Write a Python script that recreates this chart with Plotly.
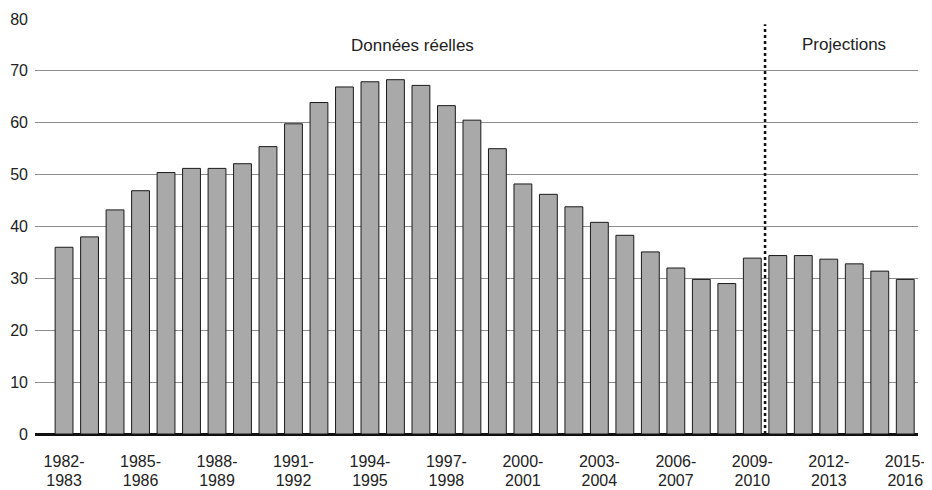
import plotly.graph_objects as go

# data
years = [f'{y}-{y + 1}' for y in range(1982, 2016)]
values = [
    36.0, 38.0, 43.2, 46.9, 50.4, 51.2, 51.2, 52.1, 55.4, 59.8, 63.9,
    66.9, 67.9, 68.3, 67.2, 63.3, 60.5, 55.0, 48.2, 46.2, 43.8, 40.8,
    38.3, 35.1, 32.0, 29.8, 29.0, 33.9, 34.4, 34.4, 33.7, 32.8, 31.4, 29.8,
]
tick_years = years[::3]
tick_top = [y.split('-')[0] + '-' for y in tick_years]
tick_bottom = [y.split('-')[1] for y in tick_years]
y_ticks = list(range(0, 90, 10))
x_range = [-1.14, 33.5]

fig = go.Figure()

fig.add_trace(go.Bar(
    x=years, y=values,
    marker=dict(color='#a9a9a9', line=dict(color='#1a1a1a', width=1)),
    showlegend=False, hoverinfo='x+y',
))
# invisible copy on the second x axis, only carries the second line of labels
fig.add_trace(go.Scatter(
    x=years, y=values, xaxis='x2', mode='markers',
    marker=dict(opacity=0), showlegend=False, hoverinfo='skip',
))

# split between actual data and projections
fig.add_shape(
    type='line', xref='x', yref='y',
    x0=27.5, x1=27.5, y0=0, y1=79,
    line=dict(color='#111111', width=2.5, dash='dot'),
)

fig.add_annotation(text='Données réelles', x=0.427, xref='paper', y=74.8, yref='y',
                   showarrow=False, font=dict(size=17, color='#222222'))
fig.add_annotation(text='Projections', x=30.6, xref='x', y=75, yref='y',
                   showarrow=False, font=dict(size=17, color='#222222'))

axis_common = dict(
    type='category', range=x_range, tickangle=0,
    showgrid=False, showline=False, zeroline=False, ticks='',
    tickfont=dict(size=16, color='#222222'), automargin=False,
)

# page has an 8px body margin, so the figure is sized to fit the 932x490 window
fig.update_layout(
    width=924, height=482,
    margin=dict(l=27, r=14, t=11, b=56),
    paper_bgcolor='white', plot_bgcolor='white',
    bargap=0.3,
    font=dict(family='Liberation Sans, Arial, sans-serif', size=16, color='#222222'),
    xaxis=dict(axis_common, tickmode='array', tickvals=tick_years, ticktext=tick_top,
               ticklabelstandoff=16),
    xaxis2=dict(axis_common, overlaying='x', side='bottom', anchor='y',
                tickmode='array', tickvals=tick_years, ticktext=tick_bottom,
                ticklabelstandoff=35),
    yaxis=dict(
        range=[0, 80],
        tickvals=y_ticks,
        showgrid=True, gridcolor='#8c8c8c', gridwidth=1,
        zeroline=True, zerolinecolor='#111111', zerolinewidth=3,
        showline=False, ticks='', ticklabelstandoff=6,
        tickfont=dict(size=16),
        automargin=False,
    ),
)

fig.write_html('out.html')
